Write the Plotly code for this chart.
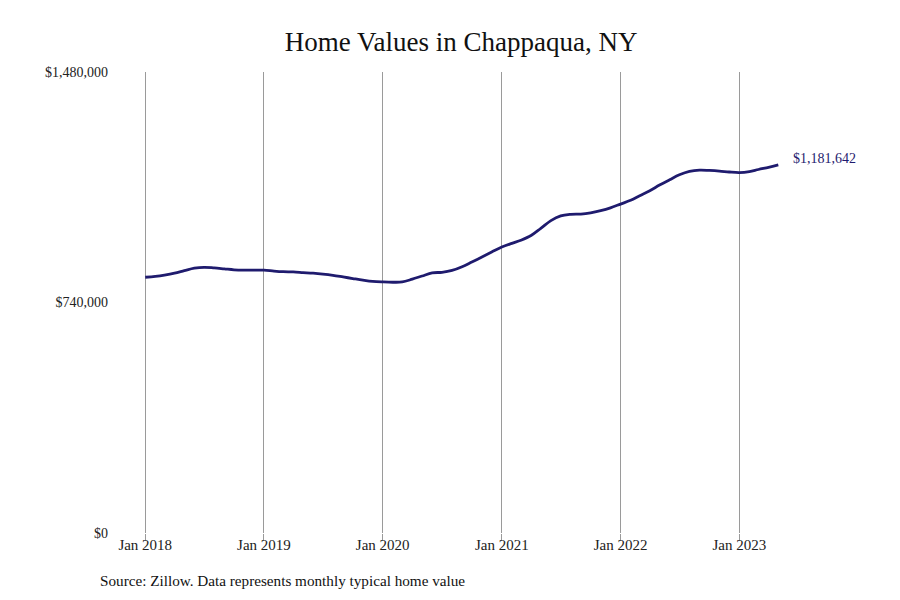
import plotly.graph_objects as go
import pandas as pd

# Zillow typical home value, Chappaqua NY, monthly Jan 2018 - May 2023
months = pd.date_range("2018-01-01", "2023-05-01", freq="MS")
home_values = [
    821000, 824000, 828000, 834000, 842000, 850000, 853000, 851000, 848000, 845000, 844000, 844000,
    844000, 841000, 839000, 838000, 836000, 834000, 831000, 827000, 822000, 817000, 812000, 808000,
    806000, 805000, 806000, 815000, 825000, 835000, 837000, 843000, 855000, 870000, 886000, 902000,
    918000, 930000, 940000, 955000, 978000, 1003000, 1018000, 1023000, 1024000, 1028000, 1035000, 1044000,
    1056000, 1068000, 1083000, 1099000, 1117000, 1134000, 1150000, 1161000, 1165000, 1164000, 1162000, 1159000,
    1157000, 1160000, 1167000, 1174000, 1181642,
]
y_ticks = [0, 740000, 1480000]
y_tick_labels = ["$0", "$740,000", "$1,480,000"]
x_ticks = pd.date_range("2018-01-01", "2023-01-01", freq="YS")
x_tick_labels = [d.strftime("Jan %Y") for d in x_ticks]

line_color = "#1f1b6e"
serif = "Liberation Serif, DejaVu Serif, serif"

fig = go.Figure()
fig.add_trace(go.Scatter(
    x=months,
    y=home_values,
    mode="lines",
    line=dict(color=line_color, width=2.8, shape="spline"),
    hovertemplate="%{x|%b %Y}: $%{y:,.0f}<extra></extra>",
))

# label at the last value
fig.add_annotation(
    x=months[-1], y=home_values[-1],
    text=f"${home_values[-1]:,}",
    showarrow=False, xanchor="left", xshift=13, yshift=6,
    font=dict(family=serif, size=14, color=line_color),
)

fig.add_annotation(
    text="Source: Zillow. Data represents monthly typical home value",
    xref="paper", yref="paper", x=-0.061, y=-0.102,
    xanchor="left", yanchor="middle", showarrow=False,
    font=dict(family=serif, size=15.2, color="#111111"),
)

# page body has an 8px margin, so size/margins are set a bit smaller
fig.update_layout(
    width=892, height=592,
    title=dict(
        text="Home Values in Chappaqua, NY",
        x=0.508, xref="container", xanchor="center",
        y=0.9426, yref="container", yanchor="middle",
        font=dict(family=serif, size=27, color="#111111"),
    ),
    margin=dict(l=134, r=42, t=64, b=67),
    paper_bgcolor="white",
    plot_bgcolor="white",
    font=dict(family=serif, size=14, color="#222222"),
    showlegend=False,
)
# start the range a few days early so the Jan 2018 gridline is drawn
fig.update_xaxes(
    range=["2017-12-22", "2024-01-01"],
    tickvals=x_ticks, ticktext=x_tick_labels,
    tickfont=dict(size=15),
    showgrid=True, gridcolor="#9a9a9a", gridwidth=1,
    ticks="outside", ticklen=7, tickcolor="#9a9a9a",
    showline=False, zeroline=False,
    ticklabelstandoff=-9,
)
fig.update_yaxes(
    range=[0, 1480000],
    tickvals=y_ticks, ticktext=y_tick_labels,
    showgrid=False, zeroline=False, showline=False,
    ticklabelstandoff=33,
)

fig.write_html("out.html")
